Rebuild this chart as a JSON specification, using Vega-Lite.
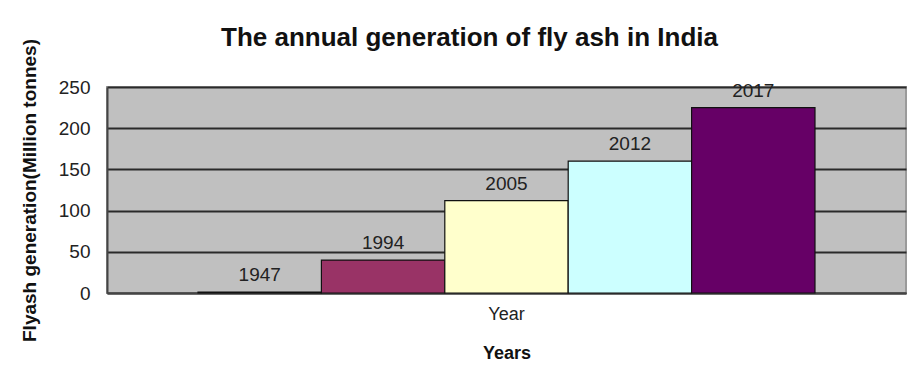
{
  "$schema": "https://vega.github.io/schema/vega-lite/v6.json",
  "width": 799,
  "height": 206,
  "autosize": "none",
  "padding": {"left": 107, "top": 87, "right": 12, "bottom": 81},
  "background": "white",
  "title": {
    "text": "The annual generation of fly ash in India",
    "font": "Liberation Sans",
    "fontSize": 26,
    "fontWeight": "bold",
    "color": "#111111",
    "dx": -37,
    "offset": -12
  },
  "data": {
    "values": [
      {"category": "Year", "year": "1947", "generation": 1},
      {"category": "Year", "year": "1994", "generation": 40},
      {"category": "Year", "year": "2005", "generation": 112},
      {"category": "Year", "year": "2012", "generation": 160},
      {"category": "Year", "year": "2017", "generation": 225}
    ]
  },
  "encoding": {
    "x": {
      "field": "category",
      "type": "nominal",
      "title": "Years",
      "scale": {"paddingInner": 0, "paddingOuter": 0.1475},
      "axis": {
        "labelAngle": 0,
        "labelFont": "Liberation Sans",
        "labelFontSize": 18,
        "labelColor": "#222222",
        "labelPadding": 12,
        "ticks": false,
        "domainColor": "#444444",
        "domainWidth": 2,
        "titleFont": "Liberation Sans",
        "titleFontSize": 18,
        "titleFontWeight": "bold",
        "titleColor": "#111111",
        "titlePadding": 21
      }
    },
    "xOffset": {
      "field": "year",
      "type": "nominal",
      "scale": {"paddingInner": 0, "paddingOuter": 0}
    },
    "y": {
      "field": "generation",
      "type": "quantitative",
      "title": "Flyash generation(Million tonnes)",
      "scale": {"domain": [0, 250], "nice": false},
      "axis": {
        "values": [0, 50, 100, 150, 200, 250],
        "grid": true,
        "gridColor": "#2a2a2a",
        "gridWidth": 1.8,
        "ticks": false,
        "domainColor": "#444444",
        "domainWidth": 2,
        "labelFont": "Liberation Sans",
        "labelFontSize": 19,
        "labelColor": "#222222",
        "labelPadding": 17,
        "titleFont": "Liberation Sans",
        "titleFontSize": 19,
        "titleFontWeight": "bold",
        "titleColor": "#111111",
        "titlePadding": 19
      }
    }
  },
  "layer": [
    {
      "mark": {"type": "bar", "stroke": "#111111", "strokeWidth": 1.2},
      "encoding": {
        "color": {
          "field": "year",
          "type": "nominal",
          "scale": {
            "domain": ["1947", "1994", "2005", "2012", "2017"],
            "range": ["#9999FF", "#993366", "#FFFFCC", "#CCFFFF", "#660066"]
          },
          "legend": null
        }
      }
    },
    {
      "mark": {
        "type": "text",
        "baseline": "bottom",
        "dy": -7,
        "font": "Liberation Sans",
        "fontSize": 19,
        "color": "#222222"
      },
      "encoding": {"text": {"field": "year"}}
    }
  ],
  "config": {
    "view": {"fill": "#C0C0C0", "stroke": "#9a9a9a", "strokeWidth": 2}
  }
}
